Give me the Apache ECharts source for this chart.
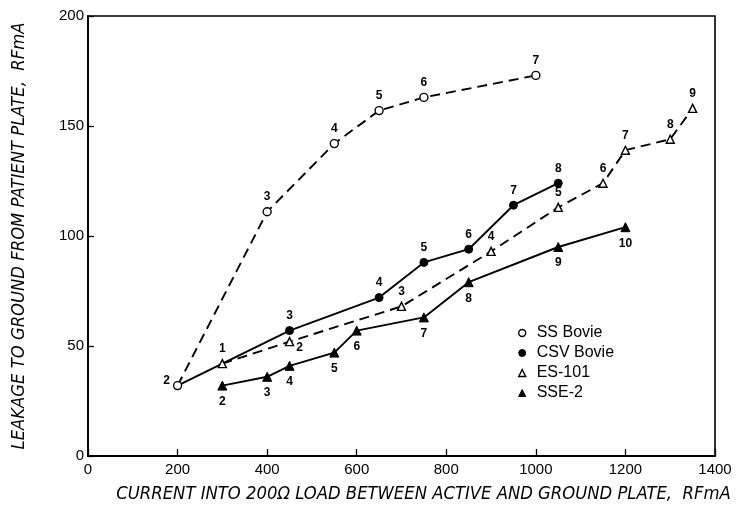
<!DOCTYPE html>
<html><head><meta charset="utf-8">
<script src="https://cdn.jsdelivr.net/npm/echarts@6/dist/echarts.min.js"></script>
<style>html,body{margin:0;padding:0;background:#fff}#c{width:738px;height:512px}</style>
</head><body><div id="c"></div>
<script>
// ---- data ----
const xTicks = [0, 200, 400, 600, 800, 1000, 1200, 1400];
const yTicks = [0, 50, 100, 150, 200];

const ssX = [200, 400, 550, 650, 750, 1000];
const ssY = [32, 111, 142, 157, 163, 173];
const ssNum = ['2', '3', '4', '5', '6', '7'];

// first two points are shared line joins without their own marker
const csvX = [200, 300, 450, 650, 750, 850, 950, 1050];
const csvY = [32, 42, 57, 72, 88, 94, 114, 124];
const csvNum = ['', '', '3', '4', '5', '6', '7', '8'];

const esX = [300, 450, 700, 900, 1050, 1150, 1200, 1300, 1350];
const esY = [42, 52, 68, 93, 113, 124, 139, 144, 158];
const esNum = ['1', '2', '3', '4', '5', '6', '7', '8', '9'];

const sseX = [300, 400, 450, 550, 600, 750, 850, 1050, 1200];
const sseY = [32, 36, 41, 47, 57, 63, 79, 95, 104];
const sseNum = ['2', '3', '4', '5', '6', '7', '8', '9', '10'];

const seriesNames = ['SS Bovie', 'CSV Bovie', 'ES-101', 'SSE-2'];
const xTitle = 'CURRENT INTO 200\u03A9 LOAD BETWEEN ACTIVE AND GROUND PLATE,  RFmA';
const yTitle = 'LEAKAGE TO GROUND FROM PATIENT PLATE,  RFmA';

// ---- styling ----
const labFont = {fontFamily: 'Liberation Sans', fontSize: 12, fontWeight: 'bold', color: '#000'};
function build(xs, ys, nums, posFn, symFn) {
  return xs.map((x, i) => {
    const p = posFn(i);
    const item = {
      value: [x, ys[i]],
      label: Object.assign({show: nums[i] !== '', formatter: nums[i], position: p.pos, distance: p.dist || 4, offset: p.off || [0, 0]}, labFont)
    };
    if (symFn && symFn(i) === 'none') item.symbol = 'none';
    return item;
  });
}
const openStyle = {color: '#fff', borderColor: '#000', borderWidth: 1.4};
const fillStyle = {color: '#000', borderColor: '#000', borderWidth: 1};
const dash = [10, 6];

const chart = echarts.init(document.getElementById('c'), null, {renderer: 'canvas'});
chart.setOption({
  animation: false,
  backgroundColor: '#fff',
  grid: {left: 88, right: 23, top: 16, bottom: 56, outerBoundsMode: 'none', containLabel: false,
    show: true, borderColor: '#000', borderWidth: 1.6, backgroundColor: 'transparent'},
  xAxis: {
    type: 'value', min: 0, max: 1400, interval: 200,
    axisLine: {show: true, lineStyle: {color: '#000', width: 1.8}},
    axisTick: {show: true, inside: true, length: 7, lineStyle: {color: '#000', width: 1.3}},
    splitLine: {show: false},
    axisLabel: {color: '#000', fontFamily: 'Liberation Sans', fontSize: 15, margin: 6,
      formatter: v => xTicks.includes(v) ? String(v) : ''},
    name: xTitle, nameLocation: 'middle', nameGap: 29,
    nameTextStyle: {fontFamily: 'DejaVu Sans Condensed', fontStyle: 'italic', fontSize: 18.3, color: '#000', padding: [0, 0, 0, 44]}
  },
  yAxis: {
    type: 'value', min: 0, max: 200, interval: 50,
    axisLine: {show: true, lineStyle: {color: '#000', width: 1.8}},
    axisTick: {show: true, inside: true, length: 6, lineStyle: {color: '#000', width: 1.3}},
    splitLine: {show: false},
    axisLabel: {color: '#000', fontFamily: 'Liberation Sans', fontSize: 15, margin: 4,
      formatter: v => yTicks.includes(v) ? String(v) : ''},
    name: yTitle, nameLocation: 'middle', nameGap: 60, nameRotate: 90,
    nameTextStyle: {fontFamily: 'DejaVu Sans Condensed', fontStyle: 'italic', fontSize: 18.3, color: '#000'}
  },
  legend: {
    orient: 'vertical', left: 513, top: 320, itemGap: 4, itemWidth: 7, itemHeight: 7,
    textStyle: {fontFamily: 'Liberation Sans', fontSize: 16, color: '#000', padding: [0, 0, 0, 6]},
    data: [
      {name: seriesNames[0], icon: 'circle', itemStyle: openStyle},
      {name: seriesNames[1], icon: 'circle', itemStyle: fillStyle},
      {name: seriesNames[2], icon: 'triangle', itemStyle: openStyle},
      {name: seriesNames[3], icon: 'triangle', itemStyle: fillStyle}
    ]
  },
  series: [
    {
      name: seriesNames[0], type: 'line', symbol: 'circle', symbolSize: 8,
      lineStyle: {color: '#000', width: 1.9, type: dash}, itemStyle: openStyle,
      data: build(ssX, ssY, ssNum, i => i === 0 ? {pos: 'left', dist: 3, off: [0, -5]} : {pos: 'top'}),
      z: 3
    },
    {
      name: seriesNames[1], type: 'line', symbol: 'circle', symbolSize: 8,
      lineStyle: {color: '#000', width: 1.9}, itemStyle: fillStyle,
      data: build(csvX, csvY, csvNum, i => ({pos: 'top'}), i => i < 2 ? 'none' : 'circle'),
      z: 2
    },
    {
      name: seriesNames[2], type: 'line', symbol: 'triangle', symbolSize: 8,
      lineStyle: {color: '#000', width: 1.9, type: dash}, itemStyle: openStyle,
      data: build(esX, esY, esNum, i => i === 1 ? {pos: 'right', dist: 2, off: [0, 6]} : {pos: 'top'}),
      z: 4
    },
    {
      name: seriesNames[3], type: 'line', symbol: 'triangle', symbolSize: 9,
      lineStyle: {color: '#000', width: 1.9}, itemStyle: fillStyle,
      data: build(sseX, sseY, sseNum, i => ({pos: 'bottom', dist: 5})),
      z: 3
    }
  ]
});
</script>
</body></html>
